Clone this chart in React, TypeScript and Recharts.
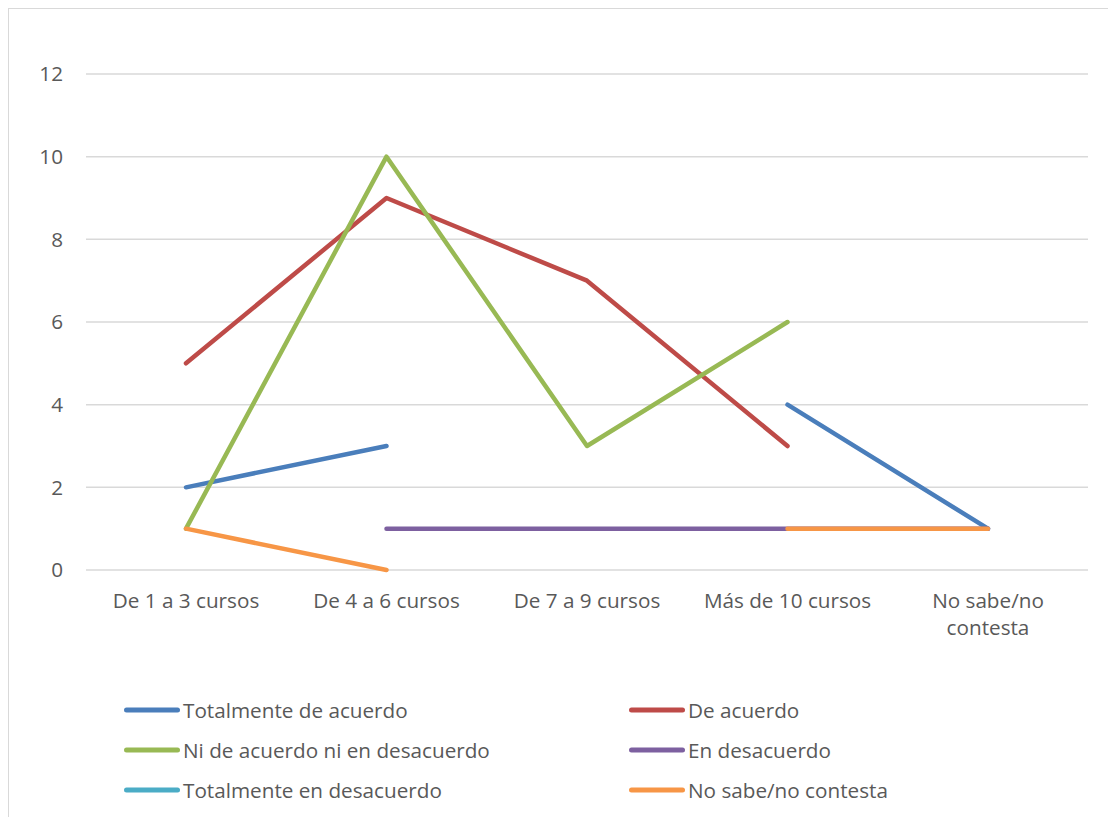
import React from 'react';
import {
  ComposedChart,
  Line,
  XAxis,
  YAxis,
  CartesianGrid,
  Legend
} from 'recharts';

const categories = ['De 1 a 3 cursos', 'De 4 a 6 cursos', 'De 7 a 9 cursos', 'Más de 10 cursos', 'No sabe/no contesta'];

const totalmenteDeAcuerdo = [2, 3, null, 4, 1];
const deAcuerdo = [5, 9, 7, 3, null];
const niDeAcuerdo = [1, 10, 3, 6, null];
const enDesacuerdo = [null, 1, 1, 1, 1];
const totalmenteEnDesacuerdo = [null, null, null, null, null];
const noSabe = [1, 0, null, 1, 1];

const yTicks = [0, 2, 4, 6, 8, 10, 12];

const SERIES = [
  { key: 'tda', name: 'Totalmente de acuerdo', values: totalmenteDeAcuerdo, color: '#4A7EBB' },
  { key: 'da', name: 'De acuerdo', values: deAcuerdo, color: '#BE4B48' },
  { key: 'ni', name: 'Ni de acuerdo ni en desacuerdo', values: niDeAcuerdo, color: '#98B954' },
  { key: 'ed', name: 'En desacuerdo', values: enDesacuerdo, color: '#7D60A0' },
  { key: 'ted', name: 'Totalmente en desacuerdo', values: totalmenteEnDesacuerdo, color: '#4BACC6' },
  { key: 'ns', name: 'No sabe/no contesta', values: noSabe, color: '#F79646' }
];

const data = categories.map((category, i) => {
  const row: Record<string, string | number | null> = { category };
  SERIES.forEach(s => {
    row[s.key] = s.values[i];
  });
  return row;
});

const FONT = "'Open Sans', sans-serif";
const FONT_SIZE = 20.7;
const TEXT_COLOR = '#595959';

// wrap a label into lines no wider than maxWidth (measured with canvas)
let ctx: CanvasRenderingContext2D | null = null;
const wrapLabel = (label: string, maxWidth: number) => {
  if (!ctx) {
    ctx = document.createElement('canvas').getContext('2d');
    if (ctx) ctx.font = `${FONT_SIZE}px 'Open Sans'`;
  }
  const words = label.split(' ');
  const lines: string[] = [];
  let cur = '';
  words.forEach(w => {
    const next = cur ? cur + ' ' + w : w;
    const width = ctx ? ctx.measureText(next).width : next.length * FONT_SIZE * 0.55;
    if (cur && width > maxWidth) {
      lines.push(cur);
      cur = w;
    } else {
      cur = next;
    }
  });
  if (cur) lines.push(cur);
  return lines;
};

const CategoryTick = (props: any) => {
  const { x, y, payload } = props;
  const lines = wrapLabel(String(payload.value), 185);
  return (
    <text
      x={x}
      y={y + 38}
      textAnchor="middle"
      fill={TEXT_COLOR}
      style={{ fontSize: FONT_SIZE, fontFamily: FONT }}
    >
      {lines.map((line, i) => (
        <tspan key={i} x={x} dy={i === 0 ? 0 : 27}>
          {line}
        </tspan>
      ))}
    </text>
  );
};

const renderLegend = (props: any) => {
  const order = SERIES.map(s => s.name);
  const payload = [...(props.payload || [])].sort(
    (a: any, b: any) => order.indexOf(a.value) - order.indexOf(b.value)
  );
  return (
    <div
      style={{
        display: 'grid',
        gridTemplateColumns: '505px 505px',
        paddingLeft: 115,
        fontFamily: FONT
      }}
    >
      {payload.map((entry: any) => (
        <div key={entry.value} style={{ display: 'flex', alignItems: 'center', height: 40 }}>
          <svg width={56} height={8}>
            <line
              x1={2.5}
              y1={4}
              x2={53.5}
              y2={4}
              stroke={entry.color}
              strokeWidth={5}
              strokeLinecap="round"
            />
          </svg>
          <span style={{ marginLeft: 3, fontSize: FONT_SIZE, color: TEXT_COLOR, whiteSpace: 'nowrap' }}>
            {entry.value}
          </span>
        </div>
      ))}
    </div>
  );
};

export default function App() {
  return (
    <div
      style={{
        width: 1100,
        height: 809,
        boxSizing: 'border-box',
        borderTop: '1px solid #d9d9d9',
        borderLeft: '1px solid #d9d9d9',
        background: '#fff',
        fontFamily: FONT
      }}
    >
      <ComposedChart
        width={1099}
        height={808}
        data={data}
        margin={{ top: 65, right: 20, left: 0, bottom: 187 }}
      >
        <CartesianGrid vertical={false} stroke="#d9d9d9" strokeWidth={1.5} />
        <XAxis
          dataKey="category"
          axisLine={false}
          tickLine={false}
          tickSize={0}
          tickMargin={0}
          interval={0}
          height={60}
          padding={{ left: 100, right: 100 }}
          tick={<CategoryTick />}
        />
        <YAxis
          domain={[0, 12]}
          ticks={yTicks}
          width={77}
          axisLine={false}
          tickLine={false}
          tickSize={0}
          tickMargin={23}
          tick={{ fill: TEXT_COLOR, fontSize: FONT_SIZE, fontFamily: FONT }}
        />
        <Legend
          layout="horizontal"
          verticalAlign="middle"
          align="center"
          wrapperStyle={{ top: 681, left: 0, width: 1099 }}
          content={renderLegend}
        />
        {SERIES.map(s => (
          <Line
            key={s.key}
            type="linear"
            dataKey={s.key}
            name={s.name}
            stroke={s.color}
            strokeWidth={4.5}
            strokeLinecap="round"
            strokeLinejoin="round"
            dot={false}
            activeDot={false}
            connectNulls={false}
            isAnimationActive={false}
          />
        ))}
      </ComposedChart>
    </div>
  );
}
